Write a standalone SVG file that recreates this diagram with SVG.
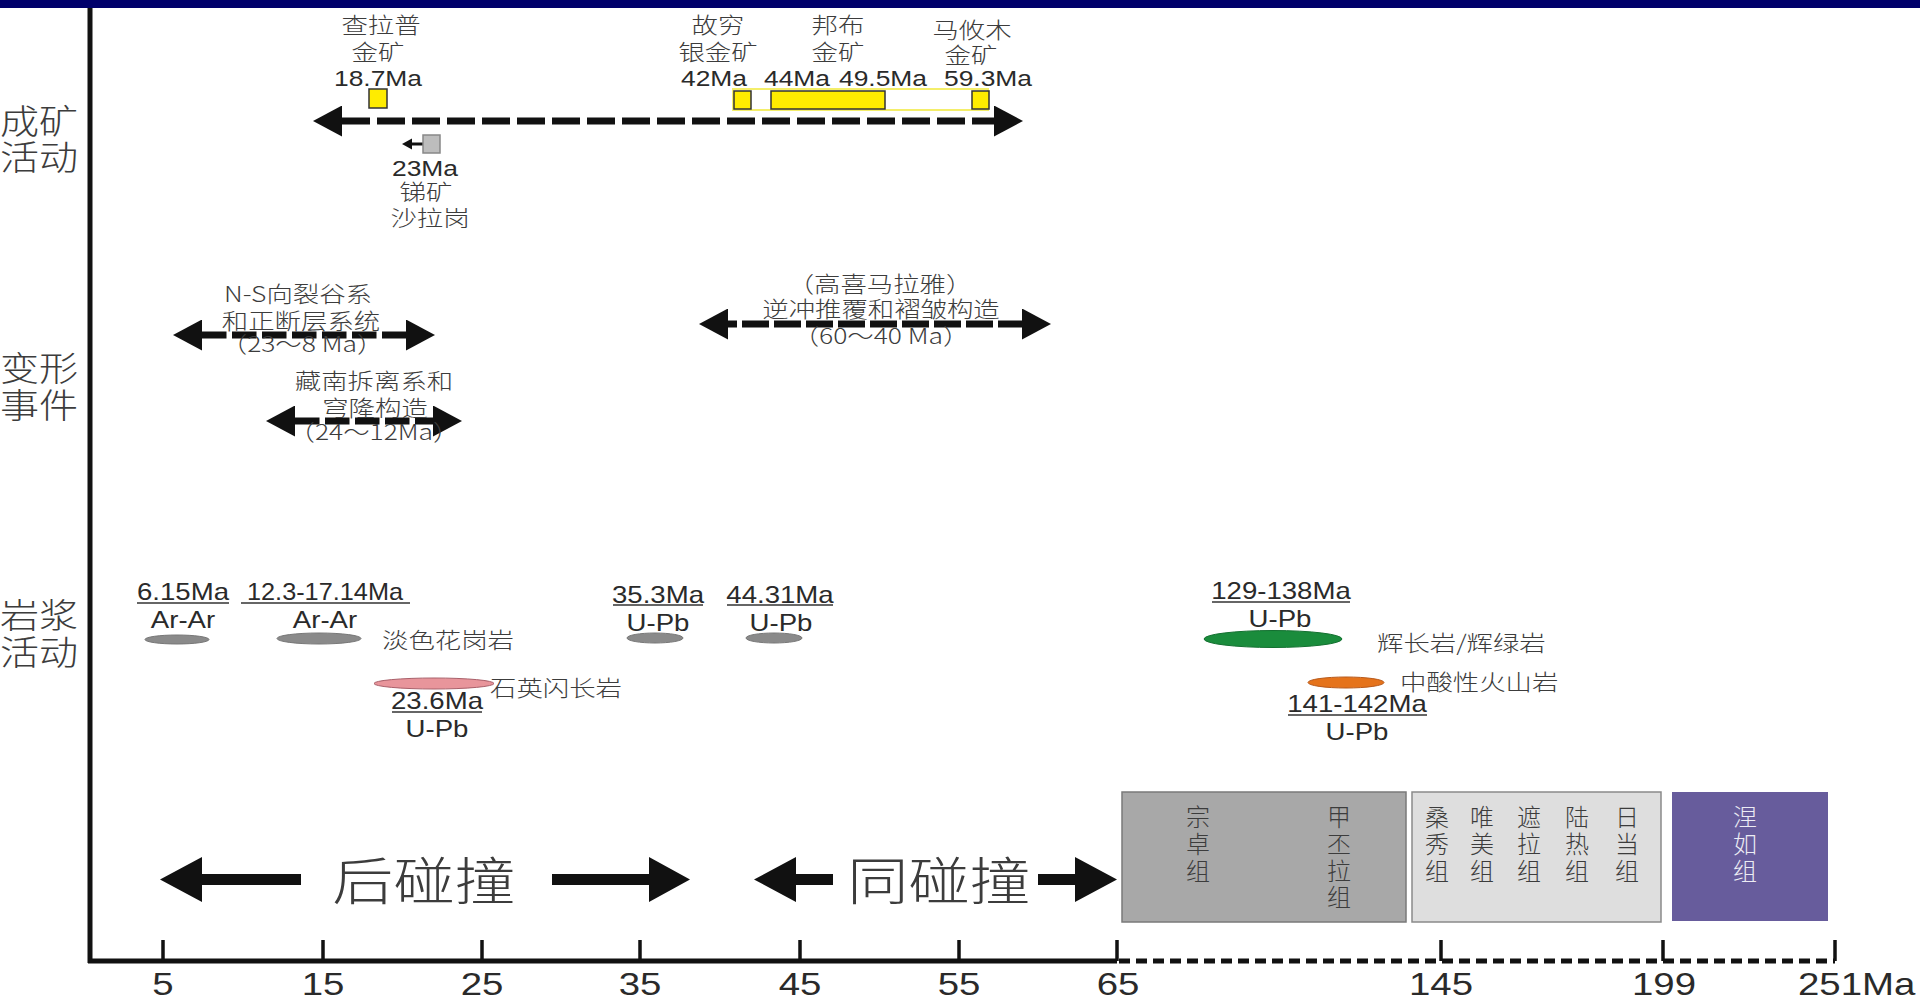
<svg xmlns="http://www.w3.org/2000/svg" width="1920" height="998" viewBox="0 0 1920 998">
<defs>
<style>
.cn{font-family:"Noto Sans CJK SC","Noto Sans CJK JP",sans-serif;fill:#3c3c3c;font-weight:300}
.lt{font-family:"Liberation Sans",Arial,sans-serif;fill:#2a2a2a}
.m{text-anchor:middle}
.s21{font-size:21px}
.s22{font-size:22px}
.s23{font-size:23px}
.s24{font-size:24px}
.s32{font-size:32px}
.s34{font-size:34px}
.s51{font-size:51px}
.dash{fill:none;stroke:#111;stroke-width:7}
.ul{stroke:#333;stroke-width:1.5}
.ore{fill:#ffec00;stroke:#333;stroke-width:1.5}
.grey{fill:#8a8a8a;stroke:#777;stroke-width:1}
.tick{stroke:#111;stroke-width:3.5}
.bx{font-family:"Noto Sans CJK SC","Noto Sans CJK JP",sans-serif;font-size:24px;text-anchor:middle;fill:#3c3c3c;font-weight:300}
</style>
<marker id="ah" viewBox="0 0 29 31" refX="0" refY="15.5" markerWidth="29" markerHeight="31" markerUnits="userSpaceOnUse" orient="auto-start-reverse">
<path d="M0,0 L29,15.5 L0,31 Z" fill="#111"/>
</marker>
</defs>
<rect width="1920" height="998" fill="#fff"/>
<rect id="header" x="0" y="0" width="1920" height="8" fill="#00006b"/>

<g id="axes">
<line x1="90" y1="8" x2="90" y2="963" stroke="#111" stroke-width="5"/>
<line x1="88" y1="961" x2="1117" y2="961" stroke="#111" stroke-width="5"/>
<line x1="1119" y1="961" x2="1835" y2="961" stroke="#111" stroke-width="5" stroke-dasharray="11 6"/>
<line class="tick" x1="163" y1="940" x2="163" y2="961"/>
<line class="tick" x1="323" y1="940" x2="323" y2="961"/>
<line class="tick" x1="482" y1="940" x2="482" y2="961"/>
<line class="tick" x1="640" y1="940" x2="640" y2="961"/>
<line class="tick" x1="800" y1="940" x2="800" y2="961"/>
<line class="tick" x1="959" y1="940" x2="959" y2="961"/>
<line class="tick" x1="1117" y1="940" x2="1117" y2="961"/>
<line class="tick" x1="1441" y1="940" x2="1441" y2="961"/>
<line class="tick" x1="1663" y1="940" x2="1663" y2="961"/>
<line class="tick" x1="1835" y1="940" x2="1835" y2="961"/>
<g class="lt m s32">
<text transform="translate(163 995) scale(1.2 1)">5</text>
<text transform="translate(323 995) scale(1.2 1)">15</text>
<text transform="translate(482 995) scale(1.2 1)">25</text>
<text transform="translate(640 995) scale(1.2 1)">35</text>
<text transform="translate(800 995) scale(1.2 1)">45</text>
<text transform="translate(959 995) scale(1.2 1)">55</text>
<text transform="translate(1118 995) scale(1.2 1)">65</text>
<text transform="translate(1441 995) scale(1.2 1)">145</text>
<text transform="translate(1664 995) scale(1.2 1)">199</text>
</g>
<text class="lt s32" transform="translate(1798 995) scale(1.2 1)">251Ma</text>
</g>

<g id="row-labels" class="cn s34">
<text class="m" transform="translate(39 134) scale(1.15 1)">成矿</text>
<text class="m" transform="translate(39 170) scale(1.15 1)">活动</text>
<text class="m" transform="translate(39 381) scale(1.15 1)">变形</text>
<text class="m" transform="translate(39 418) scale(1.15 1)">事件</text>
<text class="m" transform="translate(39 628) scale(1.15 1)">岩浆</text>
<text class="m" transform="translate(39 665) scale(1.15 1)">活动</text>
</g>

<g id="connectors">
<line class="dash" x1="342" y1="121" x2="994" y2="121" stroke-dasharray="28 7" marker-start="url(#ah)" marker-end="url(#ah)"/>
<line class="dash" x1="202" y1="335" x2="406" y2="335" stroke-dasharray="24.5 5.5" marker-start="url(#ah)" marker-end="url(#ah)"/>
<line class="dash" x1="295" y1="421" x2="433" y2="421" stroke-dasharray="24.5 5.5" marker-start="url(#ah)" marker-end="url(#ah)"/>
<line class="dash" x1="728" y1="324" x2="1022" y2="324" stroke-dasharray="27 5" stroke-dashoffset="18" marker-start="url(#ah)" marker-end="url(#ah)"/>
<line x1="411" y1="144" x2="423" y2="144" stroke="#111" stroke-width="3"/>
<path d="M402,144 L412,138.5 L412,149.5 Z" fill="#111"/>
<path d="M160,879.5 L202,857 L202,874 L301,874 L301,885 L202,885 L202,902 Z" fill="#111"/>
<path d="M552,874 L649,874 L649,857 L690,879.5 L649,902 L649,885 L552,885 Z" fill="#111"/>
<path d="M754,879.5 L796,857 L796,874 L833,874 L833,885 L796,885 L796,902 Z" fill="#111"/>
<path d="M1038,874 L1075,874 L1075,857 L1117,879.5 L1075,902 L1075,885 L1038,885 Z" fill="#111"/>
</g>

<g id="node-chalapu">
<rect class="ore" x="369" y="89" width="18" height="19"/>
<text class="cn m s22" transform="translate(381 33) scale(1.2 1)">查拉普</text>
<text class="cn m s22" transform="translate(378 60) scale(1.2 1)">金矿</text>
<text class="lt m s22" transform="translate(378 86) scale(1.2 1)">18.7Ma</text>
</g>

<g id="node-range-42-59">
<rect x="733" y="89" width="255" height="21" fill="none" stroke="#f4ee6a" stroke-width="2"/>
</g>
<g id="node-guqiong">
<rect class="ore" x="734" y="91" width="17" height="18"/>
<text class="cn m s22" transform="translate(718 33) scale(1.2 1)">故穷</text>
<text class="cn m s22" transform="translate(718 60) scale(1.2 1)">银金矿</text>
<text class="lt m s22" transform="translate(714 86) scale(1.2 1)">42Ma</text>
</g>
<g id="node-bangbu">
<rect class="ore" x="771" y="91" width="114" height="18"/>
<text class="cn m s22" transform="translate(838 33) scale(1.2 1)">邦布</text>
<text class="cn m s22" transform="translate(838 60) scale(1.2 1)">金矿</text>
<text class="lt m s22" transform="translate(797 86) scale(1.2 1)">44Ma</text>
<text class="lt m s22" transform="translate(883 86) scale(1.2 1)">49.5Ma</text>
</g>
<g id="node-mayoumu">
<rect class="ore" x="972" y="91" width="17" height="18"/>
<text class="cn m s22" transform="translate(972 38) scale(1.2 1)">马攸木</text>
<text class="cn m s22" transform="translate(971 63) scale(1.2 1)">金矿</text>
<text class="lt m s22" transform="translate(988 86) scale(1.2 1)">59.3Ma</text>
</g>
<g id="node-shalagang">
<rect x="423" y="135" width="17" height="18" fill="#bdbdbd" stroke="#888" stroke-width="1.5"/>
<text class="lt m s22" transform="translate(425 176) scale(1.2 1)">23Ma</text>
<text class="cn m s22" transform="translate(426 200) scale(1.2 1)">锑矿</text>
<text class="cn m s22" transform="translate(430 226) scale(1.2 1)">沙拉岗</text>
</g>

<g id="node-rift">
<text class="cn m s22" transform="translate(298 302) scale(1.2 1)">N-S向裂谷系</text>
<text class="cn m s22" transform="translate(301 329) scale(1.2 1)">和正断层系统</text>
<text class="cn m s22" transform="translate(302 352) scale(1.2 1)">（23～8 Ma）</text>
</g>
<g id="node-stds">
<text class="cn m s22" transform="translate(374 389) scale(1.2 1)">藏南拆离系和</text>
<text class="cn m s22" transform="translate(375 416) scale(1.2 1)">穹隆构造</text>
<text class="cn m s22" transform="translate(374 440) scale(1.2 1)">（24～12Ma）</text>
</g>
<g id="node-thrust">
<text class="cn m s22" transform="translate(880 292) scale(1.2 1)">（高喜马拉雅）</text>
<text class="cn m s22" transform="translate(881 317) scale(1.2 1)">逆冲推覆和褶皱构造</text>
<text class="cn m s22" transform="translate(881 344) scale(1.2 1)">（60～40 Ma）</text>
</g>

<g id="node-leucogranite-615">
<ellipse class="grey" cx="177" cy="639.5" rx="32" ry="4.5"/>
<text class="lt m s23" transform="translate(183 600) scale(1.2 1)">6.15Ma</text>
<line class="ul" x1="137" y1="603" x2="229" y2="603"/>
<text class="lt m s23" transform="translate(183 628) scale(1.2 1)">Ar-Ar</text>
</g>
<g id="node-leucogranite-12-17">
<ellipse class="grey" cx="319" cy="638.5" rx="42" ry="5.5"/>
<text class="lt m s23" transform="translate(325 600) scale(1.1 1)">12.3-17.14Ma</text>
<line class="ul" x1="241" y1="603" x2="410" y2="603"/>
<text class="lt m s23" transform="translate(325 628) scale(1.2 1)">Ar-Ar</text>
<text class="cn s22" transform="translate(382 648) scale(1.2 1)">淡色花岗岩</text>
</g>
<g id="node-quartz-diorite">
<ellipse cx="434" cy="683.5" rx="60" ry="5.5" fill="#e8959b" stroke="#a9606a" stroke-width="1"/>
<text class="cn s22" transform="translate(490 696) scale(1.2 1)">石英闪长岩</text>
<text class="lt m s23" transform="translate(437 709) scale(1.2 1)">23.6Ma</text>
<line class="ul" x1="392" y1="712" x2="482" y2="712"/>
<text class="lt m s23" transform="translate(437 737) scale(1.2 1)">U-Pb</text>
</g>
<g id="node-granite-353">
<ellipse class="grey" cx="655" cy="638" rx="28" ry="5"/>
<text class="lt m s23" transform="translate(658 603) scale(1.2 1)">35.3Ma</text>
<line class="ul" x1="613" y1="605" x2="703" y2="605"/>
<text class="lt m s23" transform="translate(658 631) scale(1.2 1)">U-Pb</text>
</g>
<g id="node-granite-4431">
<ellipse class="grey" cx="774" cy="638" rx="28" ry="5"/>
<text class="lt m s23" transform="translate(780 603) scale(1.2 1)">44.31Ma</text>
<line class="ul" x1="727" y1="605" x2="833" y2="605"/>
<text class="lt m s23" transform="translate(781 631) scale(1.2 1)">U-Pb</text>
</g>
<g id="node-gabbro">
<ellipse cx="1273" cy="639" rx="69" ry="8.5" fill="#1a8c3c" stroke="#137030" stroke-width="1"/>
<text class="lt m s23" transform="translate(1281 599) scale(1.2 1)">129-138Ma</text>
<line class="ul" x1="1212" y1="602" x2="1350" y2="602"/>
<text class="lt m s23" transform="translate(1280 627) scale(1.2 1)">U-Pb</text>
<text class="cn s22" transform="translate(1377 651) scale(1.2 1)">辉长岩/辉绿岩</text>
</g>
<g id="node-volcanic">
<ellipse cx="1346" cy="682.5" rx="38" ry="5.5" fill="#e5731b" stroke="#b8591a" stroke-width="1"/>
<text class="cn s22" transform="translate(1400 690) scale(1.2 1)">中酸性火山岩</text>
<text class="lt m s23" transform="translate(1357 712) scale(1.2 1)">141-142Ma</text>
<line class="ul" x1="1288" y1="715" x2="1427" y2="715"/>
<text class="lt m s23" transform="translate(1357 740) scale(1.2 1)">U-Pb</text>
</g>

<g id="node-post-collision">
<text class="cn m s51" transform="translate(424 900) scale(1.2 1)">后碰撞</text>
</g>
<g id="node-syn-collision">
<text class="cn m s51" transform="translate(939 900) scale(1.2 1)">同碰撞</text>
</g>

<g id="node-box-paleogene">
<rect x="1122" y="792" width="284" height="130" fill="#a8a8a8" stroke="#7a7a7a" stroke-width="1.5"/>
<text class="bx" x="1198" y="826">宗</text>
<text class="bx" x="1198" y="853">卓</text>
<text class="bx" x="1198" y="880">组</text>
<text class="bx" x="1339" y="826">甲</text>
<text class="bx" x="1339" y="853">丕</text>
<text class="bx" x="1339" y="880">拉</text>
<text class="bx" x="1339" y="906">组</text>
</g>
<g id="node-box-cretaceous">
<rect x="1412" y="792" width="249" height="130" fill="#dedede" stroke="#8a8a8a" stroke-width="1.5"/>
<text class="bx" x="1437" y="826">桑</text>
<text class="bx" x="1437" y="853">秀</text>
<text class="bx" x="1437" y="880">组</text>
<text class="bx" x="1482" y="826">唯</text>
<text class="bx" x="1482" y="853">美</text>
<text class="bx" x="1482" y="880">组</text>
<text class="bx" x="1529" y="826">遮</text>
<text class="bx" x="1529" y="853">拉</text>
<text class="bx" x="1529" y="880">组</text>
<text class="bx" x="1577" y="826">陆</text>
<text class="bx" x="1577" y="853">热</text>
<text class="bx" x="1577" y="880">组</text>
<text class="bx" x="1627" y="826">日</text>
<text class="bx" x="1627" y="853">当</text>
<text class="bx" x="1627" y="880">组</text>
</g>
<g id="node-box-triassic">
<rect x="1672" y="792" width="156" height="129" fill="#675c9c"/>
<text class="bx" x="1745" y="826" style="fill:#ececf4">涅</text>
<text class="bx" x="1745" y="853" style="fill:#ececf4">如</text>
<text class="bx" x="1745" y="880" style="fill:#ececf4">组</text>
</g>
</svg>
